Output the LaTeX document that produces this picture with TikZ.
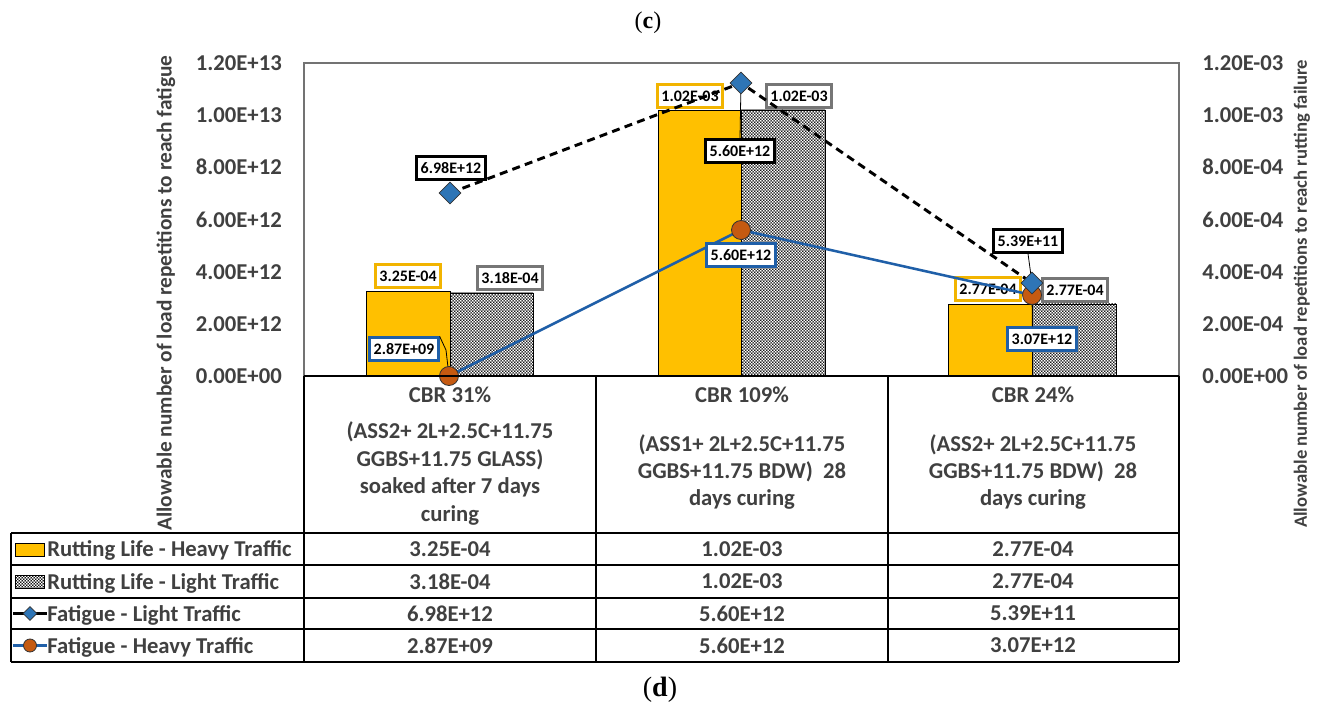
\documentclass[tikz,border=0pt]{standalone}
\usepackage{fontspec}
\setmainfont{Carlito}
\newfontfamily\capfont{Liberation Serif}
\usetikzlibrary{shapes.geometric,patterns}
\definecolor{txt}{HTML}{404040}
\definecolor{barY}{HTML}{FFC000}
\definecolor{lblY}{HTML}{F2B400}
\definecolor{lblG}{HTML}{767676}
\definecolor{lineB}{HTML}{1F5FA8}
\definecolor{diaB}{HTML}{2E75B6}
\definecolor{circO}{HTML}{C55A11}
\pgfdeclarepatternformonly{mydots}{\pgfpointorigin}{\pgfpoint{2.2pt}{2.2pt}}{\pgfpoint{2.2pt}{2.2pt}}{%
  \pgfpathcircle{\pgfpoint{0.55pt}{0.55pt}}{0.68pt}%
  \pgfpathcircle{\pgfpoint{1.65pt}{1.65pt}}{0.68pt}%
  \pgfusepath{fill}}
\tikzset{
  tick/.style={font=\bfseries\fontsize{17}{18}\selectfont, text=txt, inner sep=0pt},
  cattxt/.style={font=\bfseries\fontsize{17}{20.6}\selectfont, text=txt, align=center},
  tabtxt/.style={font=\bfseries\fontsize{17}{18}\selectfont, text=txt},
  axtitle/.style={font=\bfseries\fontsize{16}{18}\selectfont, text=txt, rotate=90},
  lbl/.style={draw=#1, line width=2pt, fill=white, font=\bfseries\fontsize{12}{14}\selectfont, text=black, inner xsep=3pt, inner ysep=0pt, minimum height=17pt},
  barH/.style={fill=barY, draw=black, line width=0.6pt},
  barL/.style={preaction={fill=white}, pattern=mydots, pattern color=black, draw=black, line width=0.6pt},
  dia/.style={diamond, draw=black!80, fill=diaB, line width=0.6pt, inner sep=0pt, minimum size=#1},
  circ/.style={circle, draw=black!80, fill=circO, line width=0.6pt, inner sep=0pt, minimum size=#1},
  fatL/.style={black, line width=2.2pt, dash pattern=on 6pt off 4pt},
  fatH/.style={lineB, line width=1.9pt},
  leader/.style={black, line width=0.6pt},
  grid/.style={black, line width=0.8pt},
  frame/.style={black!55, line width=0.8pt},
  capt/.style={font=\capfont\fontsize{#1}{#1}\selectfont, text=black}
}
\begin{document}
\begin{tikzpicture}[x=0.75pt,y=-0.75pt]
\useasboundingbox (0,0) rectangle (1322,709);
\fill[white] (0,0) rectangle (1322,709);

% captions
\node[capt=18] (capc) at (648,23) {(\textbf{c})};
\node[capt=21] (capd) at (660,690) {(\textbf{d})};

% plot frame
\draw[frame] (304,376) -- (304,63) -- (1179,63) -- (1179,376);

% axis tick labels
\foreach \v/\y [count=\i] in {0.00E+00/376,2.00E+12/324,4.00E+12/272,6.00E+12/220,8.00E+12/167,1.00E+13/115,1.20E+13/63}
  \node[tick, anchor=east] (tl\i) at (282,\y) {\v};
\foreach \v/\y [count=\i] in {0.00E+00/376,2.00E-04/324,4.00E-04/272,6.00E-04/220,8.00E-04/167,1.00E-03/115,1.20E-03/63}
  \node[tick, anchor=west] (tr\i) at (1202,\y) {\v};

% axis titles
\node[axtitle] (atl) at (166,293) {Allowable number of load repetitions to reach fatigue};
\node[axtitle, font=\bfseries\fontsize{14}{16}\selectfont] (atr) at (1302,294) {Allowable number of load repetitions to reach rutting failure};

% bars
\draw[barH] (366,376) rectangle (450,291);
\draw[barL] (450,376) rectangle (533,293);
\draw[barH] (658,376) rectangle (741,110);
\draw[barL] (741,376) rectangle (825,110);
\draw[barH] (948,376) rectangle (1032,304);
\draw[barL] (1032,376) rectangle (1116,304);

% bar labels
\node[lbl=lblY] (b1h) at (408,276) {3.25E-04};
\node[lbl=lblG] (b1l) at (510,278) {3.18E-04};
\node[lbl=lblY] (b2h) at (690,96) {1.02E-03};
\node[lbl=lblG] (b2l) at (799,96) {1.02E-03};
\node[lbl=lblY] (b3h) at (988,289) {2.77E-04};
\node[lbl=lblG] (b3l) at (1075,290) {2.77E-04};

% marker positions
\coordinate (L1) at (450,193);
\coordinate (L2) at (741,83);
\coordinate (L3) at (1032,283);
\coordinate (H1) at (449,376);
\coordinate (H2) at (741,230);
\coordinate (H3) at (1032,295);

% lines
\draw[fatH] (H1) -- (H2) -- (H3);
\draw[fatL] (L1) -- (L2) -- (L3);

% line labels and leaders
\node[lbl=black] (f1l) at (451,168) {6.98E+12};
\node[lbl=black] (f2l) at (740,151) {5.60E+12};
\node[lbl=black] (f3l) at (1028,241) {5.39E+11};
\node[lbl=lineB] (f1h) at (404,349) {2.87E+09};
\node[lbl=lineB] (f2h) at (741,255) {5.60E+12};
\node[lbl=lineB] (f3h) at (1042,339) {3.07E+12};

\draw[leader] (f2l.north) -- (L2);
\draw[leader] (f3l.south) -- (L3);
\draw[leader] (f3h.north west) ++(26,0) -- (H3);
\draw[leader] (f1h.north east) -- (446,350) -- (H1);

% marker nodes
\node[circ=19pt*0.75] (mH1) at (H1) {};
\node[circ=19pt*0.75] (mH2) at (H2) {};
\node[circ=19pt*0.75] (mH3) at (H3) {};
\node[dia=22pt*0.75] (mL1) at (L1) {};
\node[dia=22pt*0.75] (mL2) at (L2) {};
\node[dia=22pt*0.75] (mL3) at (L3) {};

% table grid
\draw[grid] (304,376) -- (1179,376);
\foreach \y in {533,565,598,629,662} \draw[grid] (11,\y) -- (1179,\y);
\draw[grid] (11,533) -- (11,662);
\draw[grid] (304,376) -- (304,662);
\draw[grid] (596,376) -- (596,662);
\draw[grid] (888,376) -- (888,662);
\draw[grid] (1179,376) -- (1179,662);

% category labels
\node[cattxt] (c1a) at (450,395) {CBR 31\%};
\node[cattxt] (c1b) at (450,473.5) {(ASS2+ 2L+2.5C+11.75\\GGBS+11.75 GLASS)\\soaked after 7 days\\curing};
\node[cattxt] (c2a) at (742,395) {CBR 109\%};
\node[cattxt] (c2b) at (742,472) {(ASS1+ 2L+2.5C+11.75\\GGBS+11.75 BDW)\ \ 28\\days curing};
\node[cattxt] (c3a) at (1033,395) {CBR 24\%};
\node[cattxt] (c3b) at (1033,472) {(ASS2+ 2L+2.5C+11.75\\GGBS+11.75 BDW)\ \ 28\\days curing};

% legend column
\draw[barH] (15,543) rectangle (44,556);
\node[tabtxt, anchor=west, inner sep=0pt] (lg1) at (47,550.5) {Rutting Life - Heavy Traffic};
\draw[barL] (15,575) rectangle (44,588);
\node[tabtxt, anchor=west, inner sep=0pt] (lg2) at (47,583) {Rutting Life - Light Traffic};
\coordinate (lg3a) at (13,613.5); \coordinate (lg3b) at (47,613.5);
\draw[black, line width=1.8pt] (lg3a) -- (lg3b);
\node[dia=14pt*0.75] (lg3m) at (30,613.5) {};
\node[tabtxt, anchor=west, inner sep=0pt] (lg3) at (47,615) {Fatigue - Light Traffic};
\coordinate (lg4a) at (13,645.5); \coordinate (lg4b) at (47,645.5);
\draw[lineB, line width=1.8pt] (lg4a) -- (lg4b);
\node[circ=13pt*0.75] (lg4m) at (30,645.5) {};
\node[tabtxt, anchor=west, inner sep=0pt] (lg4) at (47,647) {Fatigue - Heavy Traffic};

% table values
\foreach \a/\b/\c/\y [count=\r] in {3.25E-04/1.02E-03/2.77E-04/549, 3.18E-04/1.02E-03/2.77E-04/581.5, 6.98E+12/5.60E+12/5.39E+11/613.5, 2.87E+09/5.60E+12/3.07E+12/645.5}{
  \node[tabtxt] (v\r a) at (450,\y) {\a};
  \node[tabtxt] (v\r b) at (742,\y) {\b};
  \node[tabtxt] (v\r c) at (1033,\y) {\c};
}
\end{tikzpicture}
\end{document}
